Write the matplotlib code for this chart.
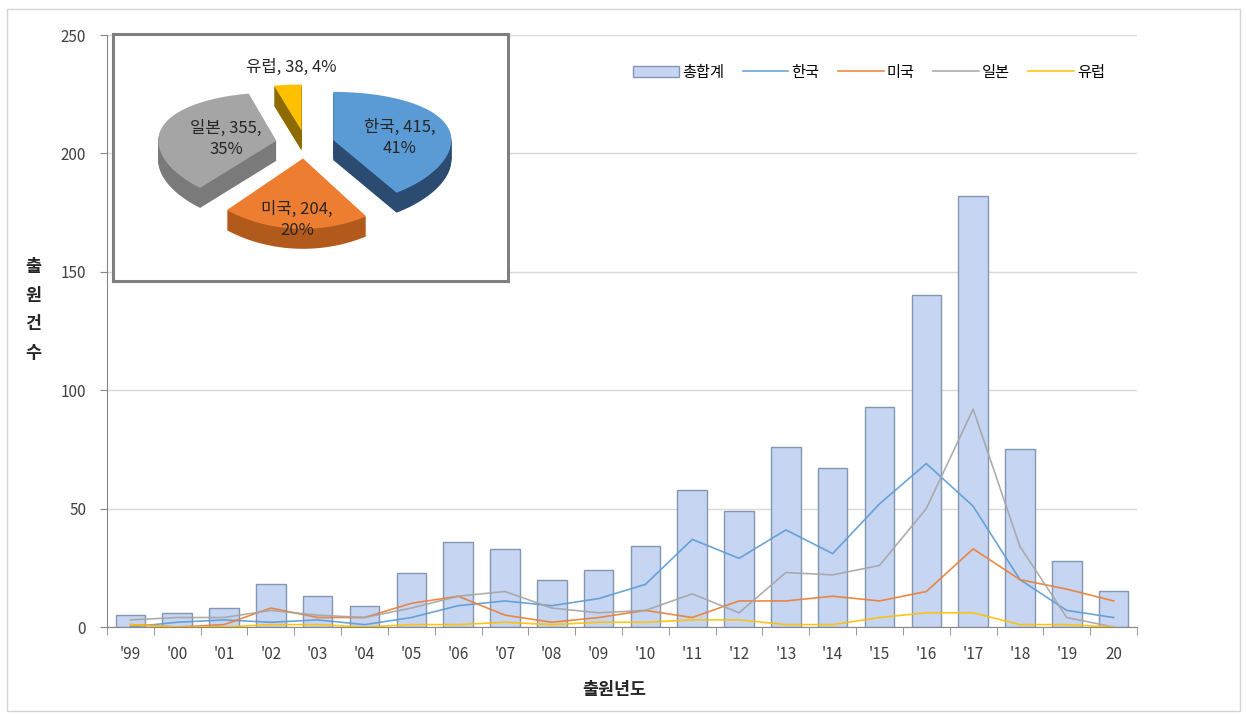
import numpy as np
import matplotlib
matplotlib.use("Agg")
import matplotlib.pyplot as plt
from matplotlib.patches import Polygon, Rectangle

plt.rcParams['font.family'] = ['Noto Sans CJK KR', 'DejaVu Sans']

# 연도별 출원건수
years = ["'99", "'00", "'01", "'02", "'03", "'04", "'05", "'06", "'07", "'08", "'09",
         "'10", "'11", "'12", "'13", "'14", "'15", "'16", "'17", "'18", "'19", "20"]
total = [5, 6, 8, 18, 13, 9, 23, 36, 33, 20, 24, 34, 58, 49, 76, 67, 93, 140, 182, 75, 28, 15]
korea = [0, 2, 3, 2, 3, 1, 4, 9, 11, 9, 12, 18, 37, 29, 41, 31, 52, 69, 51, 20, 7, 4]
usa = [1, 0, 1, 8, 4, 4, 10, 13, 5, 2, 4, 7, 4, 11, 11, 13, 11, 15, 33, 20, 16, 11]
japan = [3, 4, 4, 7, 5, 4, 8, 13, 15, 8, 6, 7, 14, 6, 23, 22, 26, 50, 92, 34, 4, 0]
europe = [1, 0, 0, 1, 1, 0, 1, 1, 2, 1, 2, 2, 3, 3, 1, 1, 4, 6, 6, 1, 1, 0]

# 국가별 누적 (파이)
pie_names = ['한국', '미국', '일본', '유럽']
pie_values = [415, 204, 355, 38]

W, H = 1246, 714
fig = plt.figure(figsize=(W / 100, H / 100), dpi=100)

def fx(px):
    return px / W

def fy(py):
    return 1 - py / H

# 바깥 테두리
fig.patches.append(Rectangle((fx(7), fy(711)), fx(1240) - fx(7), fy(9) - fy(711),
                             transform=fig.transFigure, fill=False,
                             edgecolor='#D4D4D4', linewidth=1.0))

ax = fig.add_axes([fx(107), fy(627), fx(1137) - fx(107), fy(35) - fy(627)])
x = np.arange(len(years))

ax.bar(x, total, width=0.63, color='#C6D5F1', edgecolor='#8497B0', linewidth=1.0,
       zorder=2, label='총합계')
ax.plot(x, korea, color='#5B9BD5', lw=1.2, alpha=0.9, zorder=3, label='한국')
ax.plot(x, usa, color='#ED7D31', lw=1.2, alpha=0.9, zorder=3, label='미국')
ax.plot(x, japan, color='#A5A5A5', lw=1.2, alpha=0.9, zorder=3, label='일본')
ax.plot(x, europe, color='#FFC000', lw=1.2, alpha=0.9, zorder=3, label='유럽')

ax.set_xlim(-0.5, len(years) - 0.5)
ax.set_ylim(0, 250)
ax.set_yticks(np.arange(0, 251, 50))
ax.yaxis.grid(True, color='#D9D9D9', linewidth=1.0, zorder=0)
ax.set_axisbelow(True)

for s in ['top', 'right']:
    ax.spines[s].set_visible(False)
for s in ['left', 'bottom']:
    ax.spines[s].set_color('#868686')

ax.set_xticks(x)
ax.set_xticklabels(years)
ax.set_xticks(np.arange(-0.5, len(years), 1.0), minor=True)
ax.tick_params(axis='x', which='major', length=0, pad=14, labelsize=11, labelcolor='#404040')
ax.tick_params(axis='x', which='minor', length=6, color='#868686')
ax.tick_params(axis='y', length=5, pad=10, labelsize=11, color='#868686', labelcolor='#404040')

# 범례: 막대 먼저
handles, labels = ax.get_legend_handles_labels()
order = [labels.index(n) for n in ['총합계', '한국', '미국', '일본', '유럽']]
ax.legend([handles[i] for i in order], [labels[i] for i in order],
          loc='center right', bbox_to_anchor=(0.975, 0.9375), ncol=5, frameon=False,
          fontsize=11, handlelength=3.0, handletextpad=0.2, columnspacing=1.2,
          borderaxespad=0)

fig.text(fx(33), fy(310), '출\n원\n건\n수', ha='center', va='center', fontsize=12.5,
         fontweight='bold', linespacing=1.75, color='#262626')
fig.text(fx(614), fy(690), '출원년도', ha='center', va='center', fontsize=12.5,
         fontweight='bold', color='#262626')

# 삽입 파이 (픽셀 좌표계)
pax = fig.add_axes([fx(113), fy(281), fx(508) - fx(113), fy(34) - fy(281)])
pax.set_xlim(113, 508)
pax.set_ylim(281, 34)
pax.set_xticks([])
pax.set_yticks([])
for s in pax.spines.values():
    s.set_color('#7F7F7F')
    s.set_linewidth(2.2)

cx, cy = 305, 144
rx, A, k = 118, 56, 0.14
depth = 20
explode = 0.25
top_cols = ['#5B9BD5', '#ED7D31', '#A5A5A5', '#FFC000']
side_cols = ['#2B4C70', '#B2591C', '#7A7A7A', '#8E6B00']


def project(px_, py_):
    return cx + rx * px_, cy - A * py_ / (1 + k * py_)


def wedge_pts(t0, t1, e):
    mid = np.radians((t0 + t1) / 2)
    vx, vy = e * np.sin(mid), e * np.cos(mid)
    ts = np.radians(np.linspace(t0, t1, 80))
    pts = [project(vx, vy)]
    for t in ts:
        pts.append(project(vx + np.sin(t), vy + np.cos(t)))
    return np.array(pts)


fracs = np.array(pie_values) / sum(pie_values)
bounds = np.concatenate([[0], np.cumsum(fracs) * 360])
wedges = [wedge_pts(bounds[i], bounds[i + 1], explode) for i in range(len(pie_values))]

for i in [3, 2, 0, 1]:
    pts = wedges[i]
    for d in np.arange(depth, 0, -1):
        pax.add_patch(Polygon(pts + [0, d], closed=True, facecolor=side_cols[i],
                              edgecolor='none'))
    pax.add_patch(Polygon(pts, closed=True, facecolor=top_cols[i], edgecolor='none'))

pct = [f'{round(f * 100):.0f}%' for f in fracs]
lab_kw = dict(ha='center', va='center', fontsize=12, color='#262626', linespacing=1.3)
pax.text(400, 138, f'{pie_names[0]}, {pie_values[0]},\n{pct[0]}', **lab_kw)
pax.text(297, 220, f'{pie_names[1]}, {pie_values[1]},\n{pct[1]}', **lab_kw)
pax.text(226, 139, f'{pie_names[2]}, {pie_values[2]},\n{pct[2]}', **lab_kw)
pax.text(291, 67, f'{pie_names[3]}, {pie_values[3]}, {pct[3]}', **lab_kw)

fig.savefig('out.png', dpi=100)
